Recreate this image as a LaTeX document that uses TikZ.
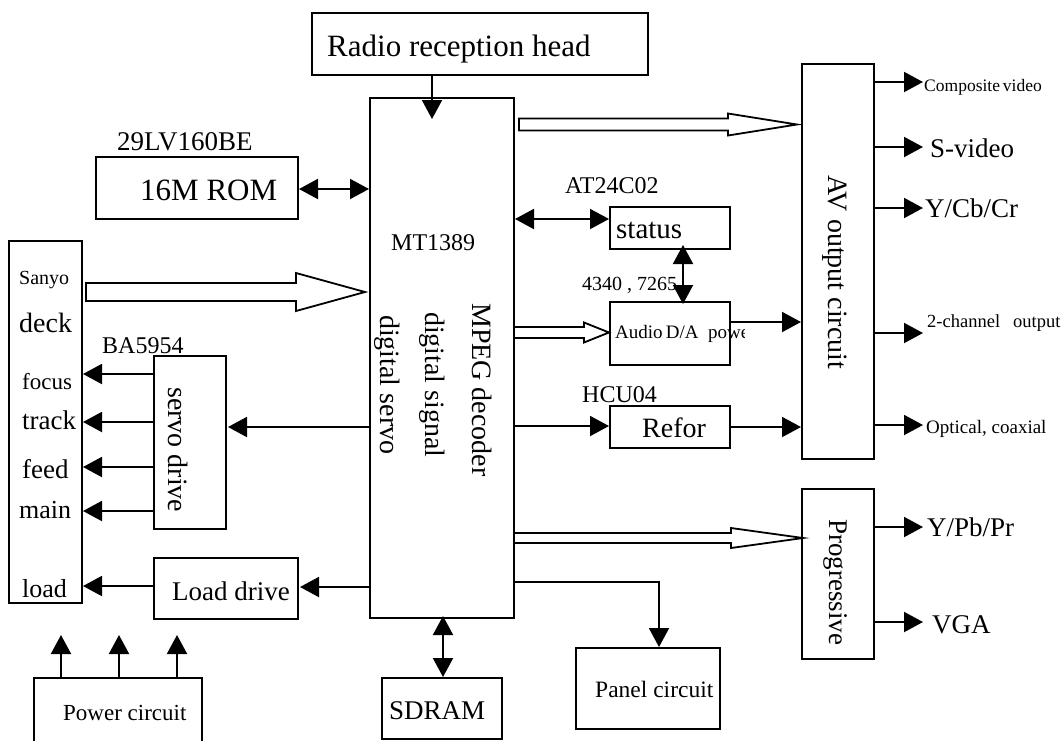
\documentclass[tikz,border=0pt]{standalone}
\usepackage{fontspec}
\setmainfont{Liberation Serif}
\usetikzlibrary{arrows.meta}
\newcommand\fs[1]{\fontsize{#1}{#1}\selectfont}
% hollow block arrow: start x, head base x, tip x, y, shaft half height, head half height
\newcommand\hollowarr[6]{\draw[hollow] (#1,#4-#5) -- (#2,#4-#5) -- (#2,#4-#6) -- (#3,#4) -- (#2,#4+#6) -- (#2,#4+#5) -- (#1,#4+#5) -- cycle;}
\tikzset{
  box/.style={draw, line width=2pt, inner sep=0pt, anchor=north west},
  lbl/.style={inner sep=0pt, anchor=base west},
  rlbl/.style={inner sep=0pt, anchor=base west, rotate=-90},
  arr/.style={line width=2pt, -{Triangle[length=19pt,width=20pt]}},
  darr/.style={line width=2pt, {Triangle[length=19pt,width=20pt]}-{Triangle[length=19pt,width=20pt]}},
  hollow/.style={draw, line width=1.8pt, fill=white},
}
\begin{document}
\begin{tikzpicture}[x=1pt,y=-1pt]
\useasboundingbox (0,0) rectangle (1062,740);
\fill[white] (0,0) rectangle (1062,740);

% ---- boxes
\node[box, minimum width=336pt, minimum height=62pt]  (radio)  at (311,12)  {};
\node[box, minimum width=202pt, minimum height=62pt]  (rom)    at (95,156)  {};
\node[box, minimum width=144pt, minimum height=520pt] (main)   at (369,97)  {};
\node[box, minimum width=73pt,  minimum height=362pt] (deck)   at (8,240)   {};
\node[box, minimum width=72pt,  minimum height=173pt] (servo)  at (153,355) {};
\node[box, minimum width=144pt, minimum height=61pt]  (load)   at (153,557) {};
\node[box, minimum width=168pt, minimum height=66pt]  (power)  at (33,677)  {};
\node[box, minimum width=120pt, minimum height=61pt]  (sdram)  at (381,677) {};
\node[box, minimum width=144pt, minimum height=81pt]  (panel)  at (575,647) {};
\node[box, minimum width=120pt, minimum height=42pt]  (status) at (609,206) {};
\node[box, minimum width=120pt, minimum height=63pt]  (audio)  at (609,301) {};
\node[box, minimum width=120pt, minimum height=42pt]  (refor)  at (609,405) {};
\node[box, minimum width=72pt,  minimum height=395pt] (av)     at (801,63)  {};
\node[box, minimum width=72pt,  minimum height=170pt] (prog)   at (801,488) {};

% ---- texts
\node[lbl, font=\fs{31}] (tradio) at (327,56) {Radio reception head};
\node[lbl, font=\fs{27}] (t29) at (117,150) {29LV160BE};
\node[lbl, font=\fs{31}] (trom) at (140,200) {16M ROM};
\node[lbl, font=\fs{24}] (tmt) at (391,250) {MT1389};
\node[rlbl, font=\fs{28}] (tmpeg) at (472,303) {MPEG decoder};
\node[rlbl, font=\fs{28}] (tsig) at (425,312) {digital signal};
\node[rlbl, font=\fs{28}] (tserv) at (380,315) {digital servo};

\node[lbl, font=\fs{20}] (tsanyo) at (19,284) {Sanyo};
\node[lbl, font=\fs{28}] (tdeck) at (19,332) {deck};
\node[lbl, font=\fs{23}] (tfocus) at (22,389) {focus};
\node[lbl, font=\fs{27}] (ttrack) at (22,429) {track};
\node[lbl, font=\fs{27}] (tfeed) at (22,478) {feed};
\node[lbl, font=\fs{26}] (tmain) at (19,518) {main};
\node[lbl, font=\fs{26}] (tload) at (22,597) {load};
\node[lbl, font=\fs{24}] (tba) at (102,353) {BA5954};
\node[rlbl, font=\fs{28}] (tservo) at (168,387) {servo drive};
\node[lbl, font=\fs{27}] (tloaddr) at (172,600) {Load drive};
\node[lbl, font=\fs{23}] (tpower) at (63,720) {Power circuit};
\node[lbl, font=\fs{27}] (tsdram) at (389,719) {SDRAM};
\node[lbl, font=\fs{23.5}] (tpanel) at (595,697) {Panel circuit};

\node[lbl, font=\fs{24}] (tat) at (565,193) {AT24C02};
\node[lbl, font=\fs{29}] (tstatus) at (616,238) {status};
\node[lbl, font=\fs{20}] (t4340) at (582,290) {4340 , 7265};
\begin{scope}
  \clip (600,300) rectangle (744,366);
  \node[lbl, font=\fs{19}] (taudio) at (615,338) {Audio\,D/A\ \ power};
\end{scope}
\node[lbl, font=\fs{24}] (thcu) at (582,402) {HCU04};
\node[lbl, font=\fs{28}] (trefor) at (642,437) {Refor};

\node[rlbl, font=\fs{28}] (tav) at (828,175) {AV output circuit};
\node[rlbl, font=\fs{27}] (tprog) at (829,519) {Progressive};

\node[lbl, font=\fs{17.5}] (tcv) at (924,91) {Composite\,video};
\node[lbl, font=\fs{27}] (tsv) at (930,157) {S-video};
\node[lbl, font=\fs{27}] (tycc) at (925,217) {Y/Cb/Cr};
\node[lbl, font=\fs{18.5}] (t2ch) at (927,327) {2-channel\hspace{13pt}output};
\node[lbl, font=\fs{19}] (topt) at (926,433) {Optical, coaxial};
\node[lbl, font=\fs{27}] (typp) at (927,536) {Y/Pb/Pr};
\node[lbl, font=\fs{27}] (tvga) at (932,633) {VGA};

% ---- hollow block arrows
\hollowarr{86}{296}{365}{292}{9}{19}
\hollowarr{519}{728}{797}{124.5}{6}{11}
\hollowarr{514}{584}{609}{332.5}{5.5}{10}
\hollowarr{514}{731}{803}{538}{5}{10}

% ---- connectors
\draw[arr] (radio.south -| 432,0) -- ++(0,43);
\draw[darr] (rom.east |- 0,189) -- (main.west |- 0,189);
\draw[arr] (servo.west |- 0,374) -- (83,374);
\draw[arr] (servo.west |- 0,422) -- (83,422);
\draw[arr] (servo.west |- 0,467) -- (83,467);
\draw[arr] (servo.west |- 0,511) -- (83,511);
\draw[arr] (main.west |- 0,427) -- (228,427);
\draw[arr] (main.west |- 0,587) -- (300,587);
\draw[arr] (load.west |- 0,586) -- (83,586);
\draw[arr] (power.north -| 61,0) -- ++(0,-42);
\draw[arr] (power.north -| 119,0) -- ++(0,-42);
\draw[arr] (power.north -| 177,0) -- ++(0,-42);
\draw[darr] (443,616) -- (sdram.north -| 443,0);
\draw[arr] (main.east |- 0,582) -- (659,582) -- (panel.north -| 659,0);
\draw[darr] (515,219) -- (status.west |- 0,219);
\draw[darr] (683,245) -- (683,304);
\draw[arr] (audio.east |- 0,322) -- (av.west |- 0,322);
\draw[arr] (main.east |- 0,426) -- (refor.west |- 0,426);
\draw[arr] (refor.east |- 0,427) -- (av.west |- 0,427);

\draw[arr] (av.east |- 0,82) -- (923,82);
\draw[arr] (av.east |- 0,147) -- (923,147);
\draw[arr] (av.east |- 0,208) -- (923,208);
\draw[arr] (av.east |- 0,333) -- (923,333);
\draw[arr] (av.east |- 0,425) -- (923,425);
\draw[arr] (prog.east |- 0,527) -- (923,527);
\draw[arr] (prog.east |- 0,622) -- (923,622);
\end{tikzpicture}
\end{document}
